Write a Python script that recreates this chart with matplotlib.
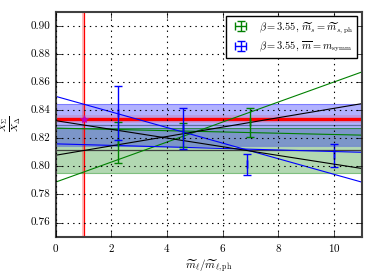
import numpy as np
import matplotlib
matplotlib.use("Agg")
import matplotlib.pyplot as plt

plt.style.use("classic")
plt.rcParams["font.family"] = "serif"
plt.rcParams["font.serif"] = ["cmr10", "DejaVu Serif"]
plt.rcParams["mathtext.fontset"] = "cm"
plt.rcParams["axes.formatter.use_mathtext"] = True

# data points (x = m_l / m_l,ph)
green_x = [2.25, 4.57, 6.99]
green_y = [0.8170, 0.8224, 0.8314]
green_err = [0.0143, 0.0087, 0.0102]

blue_x = [2.25, 4.57, 6.89, 9.99]
blue_y = [0.8379, 0.8270, 0.8014, 0.8080]
blue_err = [0.0190, 0.0147, 0.0077, 0.0082]

# fit lines: value at x=0 and x=11
fit_x = [0.0, 11.0]
green_fit = [0.7888, 0.8671]
green_fit2 = [0.8272, 0.8222]
blue_fit = [0.8498, 0.7888]
blue_fit2 = [0.8160, 0.8100]
black_up = [0.8079, 0.8446]
black_down = [0.8325, 0.7985]

# extrapolated bands (centre, half width)
green_band = (0.8113, 0.0161)
blue_band = (0.8297, 0.0149)

# physical point
phys_x = 1.0
phys_y = 0.8337

fig = plt.figure(figsize=(3.74, 2.80), dpi=100)
ax = fig.add_axes([0.149, 0.155, 0.818, 0.803])

# bands
c, w = green_band
ax.axhspan(c - w, c + w, color="g", alpha=0.3, lw=0)
ax.axhline(c - w, color="g", lw=0.8, alpha=0.5)
ax.axhline(c + w, color="g", lw=0.8, alpha=0.6)
ax.axhline(c, color="#404040", lw=0.9)

c, w = blue_band
ax.axhspan(c - w, c + w, color="b", alpha=0.3, lw=0)
ax.axhline(c - w, color="b", lw=0.8, alpha=0.3)
ax.axhline(c + w, color="b", lw=0.8, alpha=0.3)
ax.axhline(c, color="#6070a0", lw=0.9)

# physical value
ax.axhspan(phys_y - 0.003, phys_y + 0.003, color="r", alpha=0.12, lw=0)
ax.axhline(phys_y, color="r", lw=2.4)
ax.axvspan(phys_x - 0.045, phys_x + 0.045, color="r", alpha=0.25, lw=0)
ax.axvline(phys_x, color="r", lw=0.9)
ax.plot([phys_x], [phys_y], marker="*", color="m", ms=6, mec="m")

# fits
ax.plot(fit_x, green_fit, color="g", lw=0.8)
ax.plot(fit_x, green_fit2, color="g", lw=0.8)
ax.plot(fit_x, blue_fit, color="b", lw=0.8)
ax.plot(fit_x, blue_fit2, color="b", lw=0.8)
ax.plot(fit_x, black_up, color="k", lw=0.8)
ax.plot(fit_x, black_down, color="k", lw=0.8)

# data
ax.errorbar(green_x, green_y, xerr=0, yerr=green_err, fmt="none", ecolor="g",
            capsize=3, elinewidth=1.0, capthick=1.0,
            label=r"$\beta=3.55,\,\widetilde{m}_s=\widetilde{m}_{s,\mathrm{ph}}$")
ax.errorbar(blue_x, blue_y, xerr=0, yerr=blue_err, fmt="none", ecolor="b",
            capsize=3, elinewidth=1.0, capthick=1.0,
            label=r"$\beta=3.55,\,\overline{m}=m_{\mathrm{symm}}$")

ax.set_xlim(0, 11)
ax.set_ylim(0.75, 0.91)
ax.set_xticks([0, 2, 4, 6, 8, 10])
ax.set_yticks([0.76, 0.78, 0.80, 0.82, 0.84, 0.86, 0.88, 0.90])
ax.yaxis.set_major_formatter(matplotlib.ticker.FormatStrFormatter("%.2f"))
ax.tick_params(labelsize=8)
ax.grid(True, color="k", linestyle=":", lw=0.8)
ax.set_axisbelow(False)
for s in ax.spines.values():
    s.set_color("#404040")
    s.set_linewidth(1.5)

ax.set_xlabel(r"$\widetilde{m}_\ell/\widetilde{m}_{\ell,\mathrm{ph}}$", fontsize=8, labelpad=2)
ax.set_ylabel(r"$\frac{X_\Sigma}{X_\Delta}$", fontsize=10)

leg = ax.legend(loc="upper right", fontsize=7.5, numpoints=1, borderaxespad=0.4,
                handlelength=2.0, frameon=True, fancybox=False)
leg.get_frame().set_edgecolor("k")

fig.savefig("out.png", dpi=100)
